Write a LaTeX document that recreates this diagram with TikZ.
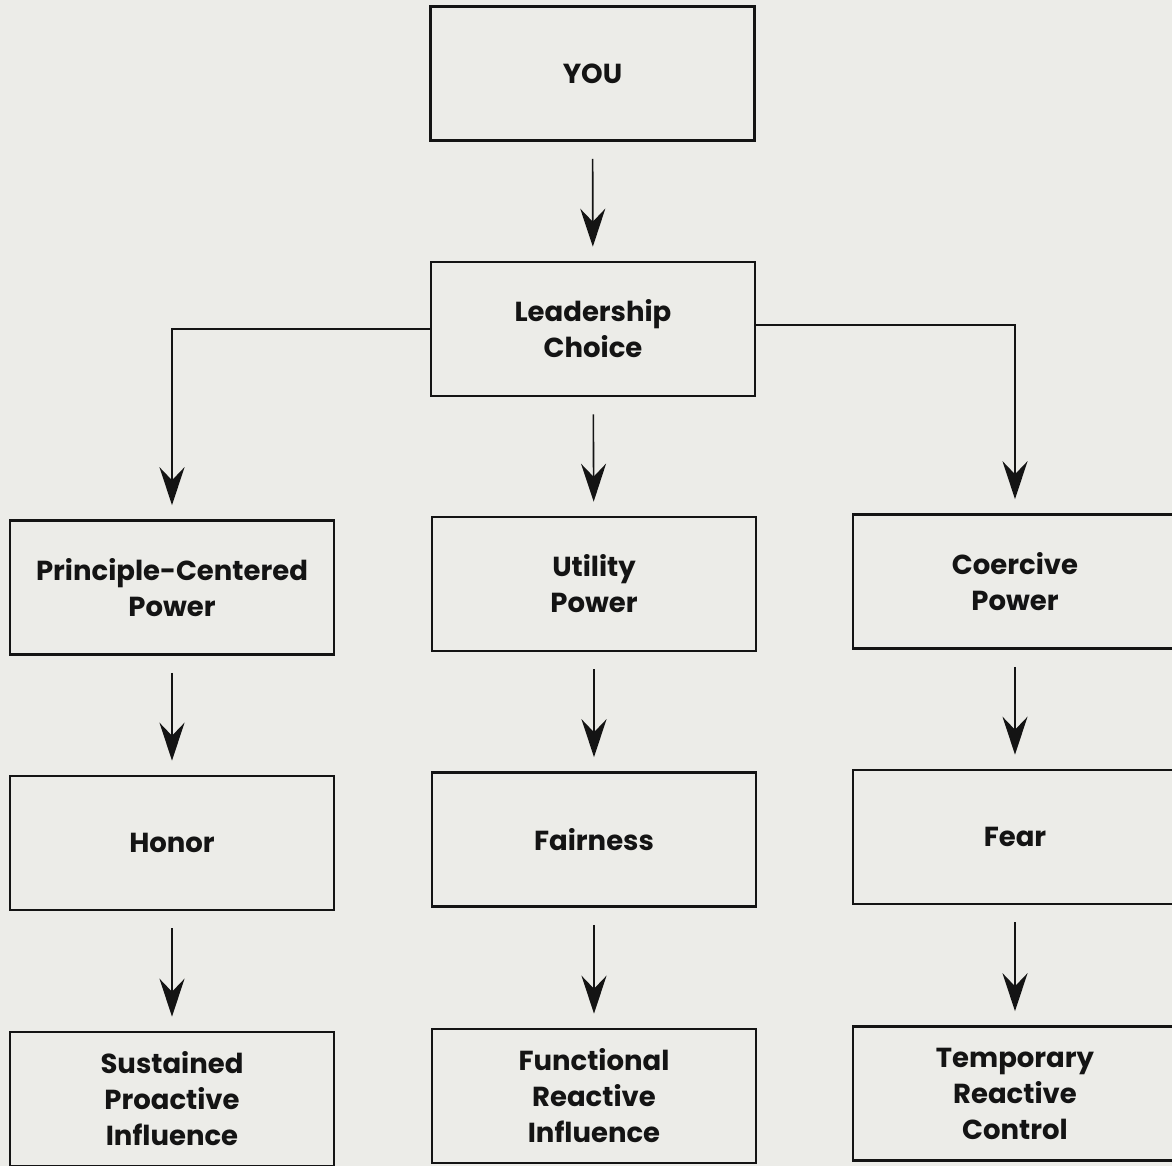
\documentclass[tikz,border=0pt]{standalone}
\usepackage{fontspec}
\setmainfont{Poppins}
\usetikzlibrary{arrows.meta}
\definecolor{paper}{RGB}{236,236,232}
\definecolor{ink}{RGB}{20,20,20}
\tikzset{
  box/.style={draw=ink, line width=2.6pt, minimum width=324pt, minimum height=134pt,
    align=center, inner sep=0pt, font=\fontsize{27.5}{36}\selectfont\bfseries, text=ink},
  arr/.style={draw=ink, line width=1.6pt, -{Stealth[length=38pt,width=25pt,inset=13pt]}},
  straightarr/.style={arr, shorten <=17pt, shorten >=14pt},
  elbowarr/.style={arr, shorten >=14pt}
}
\begin{document}
\begin{tikzpicture}[x=1pt,y=-1pt]
\fill[paper] (0,0) rectangle (1172,1166);
\useasboundingbox (0,0) rectangle (1172,1166);
\node[box] (you) at (592.5,73.5) {YOU};
\node[box] (lc) at (593,329) {Leadership\\Choice};
\node[box] (pc) at (172,587.5) {Principle-Centered\\Power};
\node[box] (up) at (594,584) {Utility\\Power};
\node[box] (cp) at (1015,581.5) {Coercive\\Power};
\node[box] (ho) at (172,843) {Honor};
\node[box] (fa) at (594,839.5) {Fairness};
\node[box] (fe) at (1015,837) {Fear};
\node[box] (spi) at (172,1099) {Sustained\\Proactive\\Influence};
\node[box] (fri) at (594,1096) {Functional\\Reactive\\Influence};
\node[box] (trc) at (1015,1093.5) {Temporary\\Reactive\\Control};
\draw[straightarr] (you) -- (lc);
\draw[straightarr] (lc) -- (up);
\draw[elbowarr] (lc.west) -| (pc.north);
\draw[elbowarr] ([yshift=4pt]lc.east) -| (cp.north);
\draw[straightarr] (pc) -- (ho);
\draw[straightarr] (ho) -- (spi);
\draw[straightarr] (up) -- (fa);
\draw[straightarr] (fa) -- (fri);
\draw[straightarr] (cp) -- (fe);
\draw[straightarr] (fe) -- (trc);
\end{tikzpicture}
\end{document}
